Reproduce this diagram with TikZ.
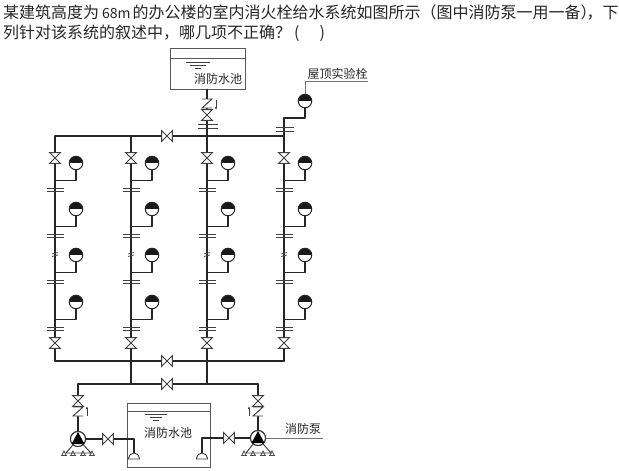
\documentclass[tikz,border=0pt]{standalone}
\usepackage{fontspec}
\setmainfont{Noto Sans CJK SC}
\usetikzlibrary{arrows.meta}
\tikzset{
 pipe/.style={line width=1.8pt,line cap=round,line join=round,black!85},
 thinline/.style={line width=0.95pt,black!75},
 leader/.style={line width=0.7pt,black!55},
 tankbox/.style={draw=black!65,line width=1pt,inner sep=0pt},
 hydrant/.style={circle,draw=black!85,line width=1pt,fill=white,inner sep=0pt,minimum size=13.5pt,
  path picture={\fill[black!90] (path picture bounding box.west) rectangle (path picture bounding box.north east);}},
 valvebox/.style={inner sep=0pt,minimum size=10.5pt,fill=white},
 pumpbody/.style={circle,draw=black!80,line width=1pt,fill=white,inner sep=0pt,minimum size=15pt},
 title/.style={inner sep=0pt,anchor=west,font=\fontsize{16pt}{16pt}\selectfont,black!85},
 label/.style={inner sep=0pt,font=\fontsize{12pt}{12pt}\selectfont,black!85},
}
\newcommand{\valve}[4]{% name, x, y, rotation
 \node[valvebox,rotate=#4] (#1) at (#2,#3) {};
 \draw[thinline] (#1.north west)--(#1.south east)--(#1.north east)--(#1.south west)--cycle;
}
\newcommand{\footmark}[2]{% x, y
 \draw[line width=0.7pt,black!70] (#1-2,#2+2)--(#1,#2-2)--(#1+2,#2+2);
 \draw[line width=1pt,black!70] (#1-3,#2+2)--(#1+3,#2+2);
}
\begin{document}
\begin{tikzpicture}[x=1pt,y=-1pt]
 \useasboundingbox (0,0) rectangle (619,471);
 \node[title] (line1) at (3,13) {某建筑高度为\hspace{3pt}{\fontsize{14pt}{14pt}\selectfont 68m}\hspace{2pt}的办公楼的室内消火栓给水系统如图所示（图中消防泵一用一备）\hspace{-10pt}，下};
 \node[title] (line2) at (3,33) {列针对该系统的叙述中，哪几项不正确？\hspace{3pt}(\hspace{20pt})};
 % top tank
 \node[tankbox,minimum width=75pt,minimum height=41pt] (tanktop) at (208,68.5) {};
 \draw[tankbox] (tanktop.west |- 0,58) -- (tanktop.east |- 0,58);
 \draw[thinline] (186,62)--(210,62) (190,65)--(206,65) (195,68)--(201,68);
 \node[label] (tanktoptext) at (218,79) {消防水池};
 % riser and main coordinates
 \coordinate (topa) at (55,136);
 \coordinate (topb) at (131,136);
 \coordinate (topc) at (207,136);
 \coordinate (topd) at (284,136);
 \coordinate (mida) at (55,361);
 \coordinate (midb) at (131,361);
 \coordinate (midc) at (207,361);
 \coordinate (midd) at (284,361);
 \coordinate (lowl) at (78,384);
 \coordinate (lowb) at (131,384);
 \coordinate (lowc) at (207,384);
 \coordinate (lowr) at (258,384);
 \draw[pipe] (topa)--(topd);
 \draw[pipe] (mida)--(midd);
 \draw[pipe] (lowl)--(lowr);
 \draw[pipe] (topa)--(mida);
 \draw[pipe] (topb)--(lowb);
 \draw[pipe] (tanktop.south -| topc)--(lowc);
 \draw[pipe] (topd)--(midd);
 % hydrants
 \foreach \r/\x in {a/55,b/131,c/207,d/284}{
  \foreach \k/\y in {1/163,2/209,3/255,4/302}{
   \node[hydrant] (hyd\r\k) at (\x+21,\y) {};
   \coordinate (tee\r\k) at (\x,\y+17.5);
   \draw[pipe] (hyd\r\k.south) |- (tee\r\k);
   \draw[thinline] (\x-8.5,\y+25)--(\x+9,\y+25) (\x-8.5,\y+28)--(\x+9,\y+28);
  }
  \valve{vup\r}{\x}{158}{90}
  \valve{vdn\r}{\x}{343}{90}
  \draw[line width=0.8pt,black!70] (\x-3,254)--(\x+3,252.5) (\x-3,256.5)--(\x+3,255);
 }
 % roof test hydrant
 \node[hydrant] (hydroof) at (305,101) {};
 \coordinate (teeroof) at (284,118);
 \draw[pipe] (hydroof.south) |- (teeroof);
 \draw[pipe] (teeroof)--(topd);
 \draw[thinline] (276,127)--(294,127) (276,131)--(294,131);
 \node[label] (roofname) at (337.5,74) {屋顶实验栓};
 \coordinate (roofend) at (368,81);
 \draw[leader] (hydroof.north) |- (roofend);
 % top tank outlet
 \draw[thinline] (198,124)--(218,124) (198,128)--(218,128);
 \valve{vtop}{207}{115}{90}
 \draw[thinline,fill=white] (202,99)--(212,99)--(202,108)--(212,108);
 \draw[thinline,-{Latex[length=3pt,width=2.5pt]}] (216,100)--(216,110);
 % valves on mains
 \valve{vmaintop}{167}{136}{0}
 \valve{vmainmid}{167}{361}{0}
 \valve{vmainlow}{167}{384}{0}
 % lower tank
 \node[tankbox,minimum width=83pt,minimum height=64pt] (tanklow) at (168.5,435) {};
 \draw[tankbox] (tanklow.west |- 0,411) -- (tanklow.east |- 0,411);
 \draw[thinline] (145,414)--(167,414) (150,417)--(162,417) (153,420)--(159,420);
 \node[label] (tanklowtext) at (168,433) {消防水池};
 % pumps
 \node[pumpbody] (pumpl) at (78,439) {};
 \node[pumpbody] (pumpr) at (258,438) {};
 \coordinate (suckl) at (134,453);
 \coordinate (suckr) at (202,453);
 \draw[pipe] (lowl)--(pumpl);
 \draw[pipe] (lowr)--(pumpr);
 \draw[pipe] (pumpl) -| (suckl);
 \draw[pipe] (pumpr) -| (suckr);
 \draw[thinline,fill=white] (128.5,459) .. controls (129,451) and (139,451) .. (139.5,459) -- cycle;
 \draw[thinline,fill=white] (196.5,459) .. controls (197,451) and (207,451) .. (207.5,459) -- cycle;
 \draw[thinline] (78,439)--(66,453)--(91,453)--cycle;
 \draw[thinline] (258,438)--(246,453)--(271,453)--cycle;
 \node[pumpbody] at (pumpl) {};
 \node[pumpbody] at (pumpr) {};
 \fill[black] (71.5,444)--(78,432)--(84.5,444)--cycle;
 \fill[black] (251.5,443)--(258,431)--(264.5,443)--cycle;
 \foreach \x in {64,73,83,92}{\footmark{\x}{453}}
 \foreach \x in {244,253,263,272}{\footmark{\x}{453}}
 % check valves, gate valves at pumps
 \valve{vpuml}{78}{401}{90}
 \valve{vpumr}{258}{401}{90}
 \draw[thinline,fill=white] (73,407)--(83,407)--(73,416)--(83,416);
 \draw[thinline,fill=white] (253,407)--(263,407)--(253,416)--(263,416);
 \draw[thinline,-{Latex[length=3pt,width=2.5pt]}] (87,416)--(87,406);
 \draw[thinline,-{Latex[length=3pt,width=2.5pt]}] (249,416)--(249,406);
 \valve{vsuckl}{108}{439}{0}
 \valve{vsuckr}{229}{438}{0}
 % pump label
 \node[label] (pumpname) at (303,429) {消防泵};
 \coordinate (pumpend) at (323,438);
 \draw[leader] (pumpr)--(pumpend);
\end{tikzpicture}
\end{document}
